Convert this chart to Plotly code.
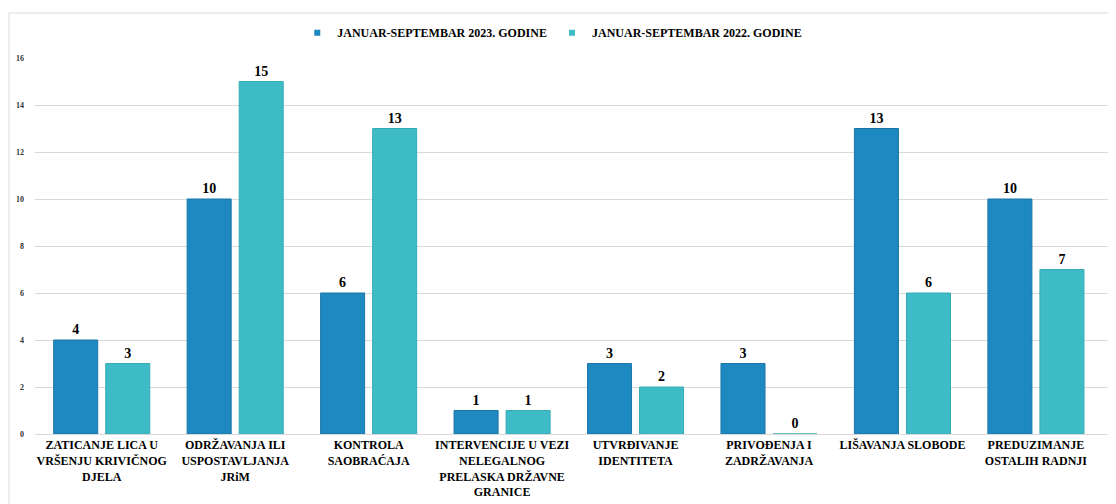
import plotly.graph_objects as go

categories = [
    "ZATICANJE LICA U<br>VRŠENJU KRIVIČNOG<br>DJELA",
    "ODRŽAVANJA ILI<br>USPOSTAVLJANJA<br>JRiM",
    "KONTROLA<br>SAOBRAĆAJA",
    "INTERVENCIJE U VEZI<br>NELEGALNOG<br>PRELASKA DRŽAVNE<br>GRANICE",
    "UTVRĐIVANJE<br>IDENTITETA",
    "PRIVOĐENJA I<br>ZADRŽAVANJA",
    "LIŠAVANJA SLOBODE",
    "PREDUZIMANJE<br>OSTALIH RADNJI",
]
values_2023 = [4, 10, 6, 1, 3, 3, 13, 10]
values_2022 = [3, 15, 13, 1, 2, 0, 6, 7]
y_ticks = [0, 2, 4, 6, 8, 10, 12, 14, 16]

font = "Liberation Serif"
c2023 = "#1E88C0"
c2022 = "#3DBCC7"
names = ["JANUAR-SEPTEMBAR 2023. GODINE", "JANUAR-SEPTEMBAR 2022. GODINE"]

fig = go.Figure()
for vals, col, edge, nm in [(values_2023, c2023, "#1B77A8", names[0]),
                            (values_2022, c2022, "#36ABB5", names[1])]:
    fig.add_trace(go.Bar(
        x=categories, y=vals, name=nm, showlegend=False,
        marker=dict(color=col, line=dict(color=edge, width=1)),
        text=vals, textposition="outside",
        textfont=dict(family=font, size=14, color="#000000", weight="bold"),
        cliponaxis=False,
    ))

# small square legend markers
for col, nm in [(c2023, names[0]), (c2022, names[1])]:
    fig.add_trace(go.Scatter(
        x=[None], y=[None], mode="markers", name=nm,
        marker=dict(symbol="square", size=6, color=col),
    ))

fig.update_layout(
    width=1116, height=504,
    margin=dict(l=27, r=0, t=50, b=78),
    paper_bgcolor="white", plot_bgcolor="white",
    barmode="group", bargap=0.22, bargroupgap=0.154,
    font=dict(family=font, color="#000000"),
    legend=dict(
        orientation="h", x=0.475, xanchor="center", y=1.067, yanchor="middle",
        font=dict(family=font, size=12, color="#000000", weight="bold"),
        itemwidth=30, tracegroupgap=0,
    ),
    shapes=[dict(
        type="rect", xref="paper", yref="paper",
        x0=-0.0239, x1=1.02, y0=-0.3, y1=1.1197,
        line=dict(color="#d9d9d9", width=1), layer="below",
    )],
)
fig.update_xaxes(
    range=[-0.5, 7.66],
    tickfont=dict(family=font, size=12, color="#000000", weight="bold"),
    showline=True, linecolor="#d9d9d9", linewidth=1,
    ticks="", automargin=False,
)
fig.update_yaxes(
    range=[0, 16], tickvals=y_ticks,
    tickfont=dict(family=font, size=8, color="#333333", weight="bold"),
    showgrid=True, gridcolor="#d9d9d9", gridwidth=1,
    zeroline=False, ticks="", ticklabelstandoff=10, automargin=False,
)

fig.write_html("out.html")
